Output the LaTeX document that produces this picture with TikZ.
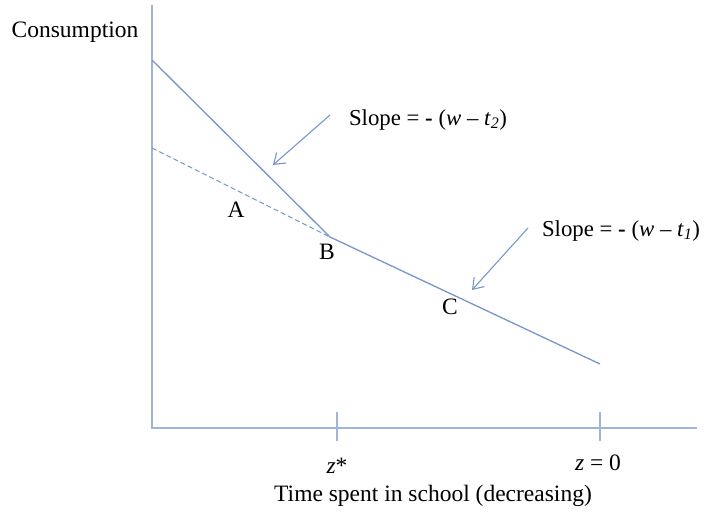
\documentclass[tikz,border=0pt]{standalone}
\usepackage{fontspec}
\setmainfont{Liberation Serif}
\usetikzlibrary{arrows.meta}
\definecolor{lineblue}{RGB}{118,150,204}
\begin{document}
\begin{tikzpicture}[x=1pt,y=-1pt,
  curve/.style={draw=lineblue,line width=1.3pt},
  axis/.style={draw=lineblue!70,line width=1.5pt},
  pointer/.style={draw=lineblue,line width=1.1pt,-{Straight Barb[length=10pt,width=14pt]}},
  lbl/.style={font=\fontsize{23.5}{28}\selectfont,inner sep=0pt},
  slopelbl/.style={font=\fontsize{22.8}{27}\selectfont,inner sep=0pt}]
\useasboundingbox (0,0) rectangle (704,516);
% axes
\coordinate (O) at (152,428);
\coordinate (ytop) at (152,5);
\coordinate (xend) at (697,428);
\draw[axis] (ytop) -- (O) -- (xend);
\coordinate (t1a) at (337,412); \coordinate (t1b) at (337,441);
\coordinate (t2a) at (600,412); \coordinate (t2b) at (600,441);
\draw[axis] (t1a) -- (t1b);
\draw[axis] (t2a) -- (t2b);
% lines
\coordinate (top) at (152,60);
\coordinate (kink) at (330,237);
\coordinate (end) at (600,364);
\coordinate (dstart) at (152,148);
\draw[curve] (top) -- (kink) -- (end);
\draw[curve,dash pattern=on 5pt off 3pt,line width=1.1pt] (dstart) -- (kink);
% labels
\node[lbl] (cons) at (75,32) {Consumption};
\node[lbl] (A) at (236,210) {A};
\node[lbl] (B) at (327,252) {B};
\node[lbl] (C) at (450,307) {C};
\node[slopelbl] (s2) at (428,120) {Slope = \textbf{-} (\textit{w} – \textit{t}\textsubscript{\textit{2}})};
\node[slopelbl] (s1) at (621,231) {Slope = \textbf{-} (\textit{w} – \textit{t}\textsubscript{\textit{1}})};
\coordinate (a2s) at (330,115); \coordinate (a2e) at (273,165);
\coordinate (a1s) at (528,228); \coordinate (a1e) at (472,290);
\draw[pointer] (a2s) -- (a2e);
\draw[pointer] (a1s) -- (a1e);
\node[lbl] (zs) at (337,466) {\textit{z}*};
\node[lbl] (z0) at (598,463) {\textit{z} = 0};
\node[lbl] (xl) at (433,496) {Time spent in school (decreasing)};
\end{tikzpicture}
\end{document}
